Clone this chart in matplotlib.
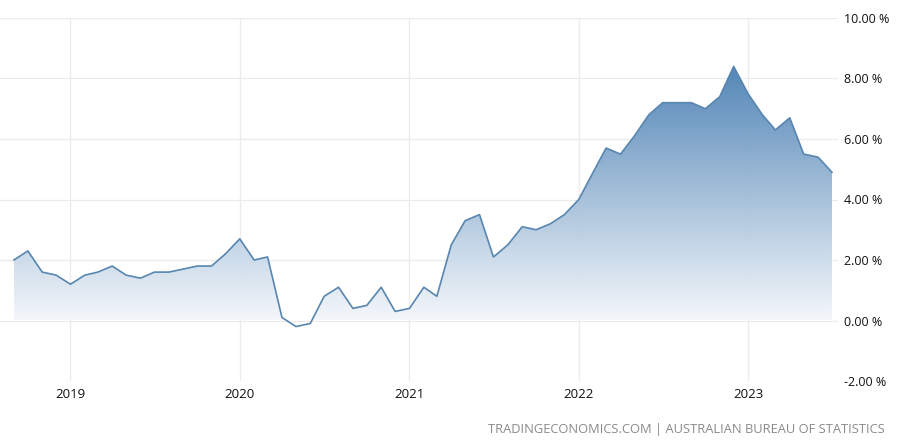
import numpy as np
import pandas as pd
import matplotlib
matplotlib.use("Agg")
import matplotlib.pyplot as plt
import matplotlib.dates as mdates
from matplotlib.colors import LinearSegmentedColormap

# Australia monthly CPI indicator, % y/y, Sep 2018 - Jul 2023
start_month = "2018-09"
cpi = [
    2.0, 2.3, 1.6, 1.5,
    1.2, 1.5, 1.6, 1.8, 1.5, 1.4, 1.6, 1.6, 1.7, 1.8, 1.8, 2.2,
    2.7, 2.0, 2.1, 0.1, -0.2, -0.1, 0.8, 1.1, 0.4, 0.5, 1.1, 0.3,
    0.4, 1.1, 0.8, 2.5, 3.3, 3.5, 2.1, 2.5, 3.1, 3.0, 3.2, 3.5,
    4.0, 4.9, 5.7, 5.5, 6.1, 6.8, 7.2, 7.2, 7.2, 7.0, 7.4, 8.4,
    7.5, 6.8, 6.3, 6.7, 5.5, 5.4, 4.9,
]
year_ticks = ["2019", "2020", "2021", "2022", "2023"]
y_ticks = [-2, 0, 2, 4, 6, 8, 10]
source = "TRADINGECONOMICS.COM | AUSTRALIAN BUREAU OF STATISTICS"

plt.rcParams["font.family"] = ["Open Sans", "DejaVu Sans"]

dates = pd.date_range(start_month, periods=len(cpi), freq="MS")
x = mdates.date2num(dates)
y = np.array(cpi)

fig = plt.figure(figsize=(9, 4.41), dpi=100)
ax = fig.add_axes([0.0, 60 / 441, 838 / 900, (381 - 18) / 441])

x0 = mdates.date2num(pd.Timestamp("2018-08-02"))
x1 = mdates.date2num(pd.Timestamp("2023-07-14"))
ax.set_xlim(x0, x1)
ax.set_ylim(-2, 10)

# gradient fill under the line
cmap = LinearSegmentedColormap.from_list("te", ["#f4f7fb", "#4a80b3"])
grad = np.linspace(0, 1, 256).reshape(-1, 1)
img = ax.imshow(grad, cmap=cmap, aspect="auto", origin="lower",
                extent=[x[0], x[-1], 0, y.max()], zorder=2, alpha=0.95)
poly = ax.fill_between(x, y, 0, color="none", lw=0)
img.set_clip_path(poly.get_paths()[0], transform=ax.transData)

ax.plot(x, y, color="#5886b0", lw=1.2, zorder=3)

# grid
ax.set_yticks(y_ticks)
ax.set_yticklabels([f"{v:.2f} %" for v in y_ticks])
ax.set_xticks(mdates.date2num([pd.Timestamp(f"{yr}-01-01") for yr in year_ticks]))
ax.set_xticklabels(year_ticks)
ax.grid(True, color="#ebebeb", lw=0.9, zorder=0)
ax.set_axisbelow(True)
for s in ax.spines.values():
    s.set_visible(False)

ax.yaxis.tick_right()
ax.tick_params(axis="y", length=0, pad=4, labelsize=9, labelcolor="#111111")
ax.tick_params(axis="x", length=0, pad=5, labelsize=9.5, labelcolor="#111111")

fig.text(885 / 900, 1 - 430 / 441, source, ha="right", va="center",
         fontsize=9.3, color="#8a8a8a")

fig.savefig("out.png", dpi=100)
